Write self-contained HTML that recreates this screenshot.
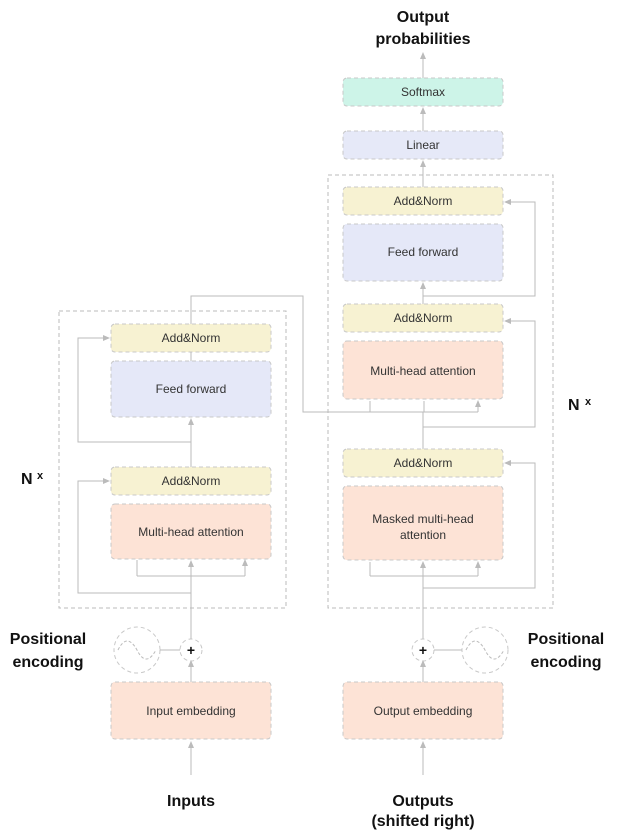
<!DOCTYPE html>
<html><head><meta charset="utf-8"><style>
html,body{margin:0;padding:0;background:#fff;}
svg{display:block;}
text{font-family:"Liberation Sans",sans-serif;}
</style></head><body>
<svg width="619" height="834" viewBox="0 0 619 834" xmlns="http://www.w3.org/2000/svg">
<defs>
<marker id="a" markerWidth="8" markerHeight="8" refX="6" refY="4" orient="auto" markerUnits="userSpaceOnUse">
<path d="M0,1 L7,4 L0,7 z" fill="#bbb"/></marker>
</defs>
<g fill="none" stroke="#bbb" stroke-dasharray="4,3" stroke-width="1">
<rect x="59" y="311" width="227" height="297"/>
<rect x="328" y="175" width="225" height="433"/>
</g>
<g stroke="#c8c8c8" stroke-dasharray="4,3" stroke-width="1">
<rect x="111" y="324" width="160" height="28" rx="4" fill="#f7f2d2"/>
<rect x="111" y="361" width="160" height="56" rx="4" fill="#e5e8f8"/>
<rect x="111" y="467" width="160" height="28" rx="4" fill="#f7f2d2"/>
<rect x="111" y="504" width="160" height="55" rx="4" fill="#fde3d6"/>
<rect x="111" y="682" width="160" height="57" rx="4" fill="#fde3d6"/>
<rect x="343" y="78" width="160" height="28" rx="4" fill="#cdf4e8"/>
<rect x="343" y="131" width="160" height="28" rx="4" fill="#e6e9f8"/>
<rect x="343" y="187" width="160" height="28" rx="4" fill="#f7f2d2"/>
<rect x="343" y="224" width="160" height="57" rx="4" fill="#e5e8f8"/>
<rect x="343" y="304" width="160" height="28" rx="4" fill="#f7f2d2"/>
<rect x="343" y="341" width="160" height="58" rx="4" fill="#fde3d6"/>
<rect x="343" y="449" width="160" height="28" rx="4" fill="#f7f2d2"/>
<rect x="343" y="486" width="160" height="74" rx="4" fill="#fde3d6"/>
<rect x="343" y="682" width="160" height="57" rx="4" fill="#fde3d6"/>
<circle cx="191" cy="650" r="11" fill="#fff"/>
<circle cx="137" cy="650" r="23" fill="#fff"/>
<circle cx="423" cy="650" r="11" fill="#fff"/>
<circle cx="485" cy="650" r="23" fill="#fff"/>
</g>
<g fill="none" stroke="#bbb" stroke-width="1">
<path d="M118,650 q9,-18 19,0 q9,18 19,0" stroke-dasharray="3,2"/>
<path d="M466,650 q9,-18 19,0 q9,18 19,0" stroke-dasharray="3,2"/>
<path d="M160,650 H180 M434,650 H462"/>
<!-- encoder -->
<path d="M191,775 V742" marker-end="url(#a)"/>
<path d="M191,682 V661" marker-end="url(#a)"/>
<path d="M191,639 V561" marker-end="url(#a)"/>
<path d="M137,576 H245 M137,576 V561 M245,576 V561" />
<path d="M137,570 V560 M245,570 V560" marker-end="url(#a)"/>
<path d="M191,593 H78 V481 H109" marker-end="url(#a)"/>
<path d="M191,467 V419" marker-end="url(#a)"/>
<path d="M191,442 H78 V338 H109" marker-end="url(#a)"/>
<path d="M191,361 V352 M191,324 V296 H303 V412 H478"/>
<path d="M370,412 V401 M424,412 V401 M478,412 V401" marker-end="url(#a)"/>
<!-- decoder -->
<path d="M423,775 V742" marker-end="url(#a)"/>
<path d="M423,682 V661" marker-end="url(#a)"/>
<path d="M423,639 V562" marker-end="url(#a)"/>
<path d="M370,576 H478"/>
<path d="M370,576 V562 M478,576 V562" marker-end="url(#a)"/>
<path d="M423,588 H535 V463 H505" marker-end="url(#a)"/>
<path d="M423,449 V412"/>
<path d="M423,427 H535 V321 H505" marker-end="url(#a)"/>
<path d="M423,304 V283" marker-end="url(#a)"/>
<path d="M423,296 H535 V202 H505" marker-end="url(#a)"/>
<path d="M423,187 V161" marker-end="url(#a)"/>
<path d="M423,131 V108" marker-end="url(#a)"/>
<path d="M423,78 V53" marker-end="url(#a)"/>
</g>
<g font-size="12" fill="#333" text-anchor="middle">
<text x="191" y="342">Add&amp;Norm</text>
<text x="191" y="393">Feed forward</text>
<text x="191" y="485">Add&amp;Norm</text>
<text x="191" y="536">Multi-head attention</text>
<text x="191" y="715">Input embedding</text>
<text x="423" y="96">Softmax</text>
<text x="423" y="149">Linear</text>
<text x="423" y="205">Add&amp;Norm</text>
<text x="423" y="256">Feed forward</text>
<text x="423" y="322">Add&amp;Norm</text>
<text x="423" y="375">Multi-head attention</text>
<text x="423" y="467">Add&amp;Norm</text>
<text x="423" y="523">Masked multi-head</text>
<text x="423" y="539">attention</text>
<text x="423" y="715">Output embedding</text>
</g>
<g font-size="16" font-weight="bold" fill="#111" text-anchor="middle">
<text x="423" y="22">Output</text>
<text x="423" y="44">probabilities</text>
<text x="191" y="806">Inputs</text>
<text x="423" y="806">Outputs</text>
<text x="423" y="826">(shifted right)</text>
<text x="48" y="644">Positional</text>
<text x="48" y="667">encoding</text>
<text x="566" y="644">Positional</text>
<text x="566" y="667">encoding</text>
<text x="191" y="655" font-size="14">+</text>
<text x="423" y="655" font-size="14">+</text>
</g>
<g font-weight="bold" fill="#111">
<text x="21" y="484" font-size="16">N</text><text x="37" y="479" font-size="11">x</text>
<text x="568" y="410" font-size="16">N</text><text x="585" y="405" font-size="11">x</text>
</g>
</svg>
</body></html>
